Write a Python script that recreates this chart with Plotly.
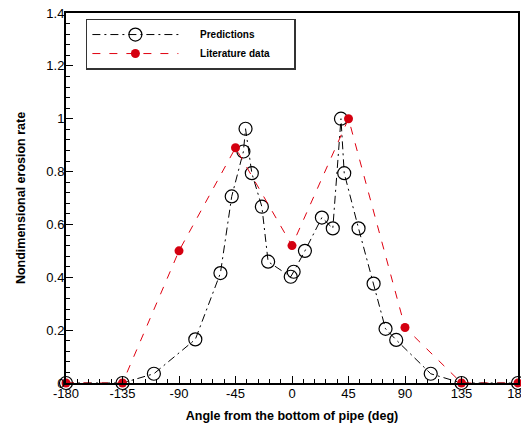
import plotly.graph_objects as go

pred_angle = [-180, -135, -110, -77, -57, -48, -38.7, -37, -32, -24, -19, -1, 1.3, 10.3,
              23.8, 32.5, 39, 41.6, 53, 65, 74.5, 83, 110.5, 135, 180]
pred_rate = [0, 0, 0.035, 0.165, 0.416, 0.706, 0.876, 0.962, 0.794, 0.667, 0.459, 0.402, 0.421, 0.50,
             0.626, 0.585, 1.0, 0.794, 0.585, 0.376, 0.205, 0.163, 0.035, 0, 0]

lit_angle = [-180, -135, -90, -45, 0, 45, 90, 135, 180]
lit_rate = [0, 0, 0.50, 0.89, 0.52, 1.0, 0.21, 0, 0]

x_tickvals = [-180, -135, -90, -45, 0, 45, 90, 135, 180]
x_ticktext = ["-180", "-135", "-90", "-45", "0", "45", "90", "135", "180"]
y_tickvals = [0, 0.2, 0.4, 0.6, 0.8, 1.0, 1.2, 1.4]
y_ticktext = ["0", "0.2", "0.4", "0.6", "0.8", "1", "1.2", "1.4"]

FONT = "Liberation Sans, Arial, sans-serif"
NB = "\u00a0"

fig = go.Figure()
fig.add_trace(go.Scatter(
    x=pred_angle, y=pred_rate, name=NB * 6 + "<b>Predictions</b>" + NB * 7, mode="lines+markers",
    line=dict(color="black", width=1, dash="8px,4px,2px,4px"),
    marker=dict(symbol="circle-open", size=13, color="black", line=dict(width=1.2, color="black")),
    cliponaxis=False,
))
fig.add_trace(go.Scatter(
    x=lit_angle, y=lit_rate, name=NB * 6 + "<b>Literature data</b>" + NB * 7, mode="lines+markers",
    line=dict(color="#e0000f", width=1, dash="8px,9px"),
    marker=dict(symbol="circle", size=9, color="#d40010"),
    cliponaxis=False,
))

axis_common = dict(
    showgrid=False, zeroline=False, showline=True, linewidth=2, linecolor="black",
    mirror=True, ticks="inside", ticklen=7, tickwidth=1, tickcolor="black",
    tickfont=dict(family=FONT, size=13, color="black"), automargin=False,
    ticklabeloverflow="allow",
)

fig.update_xaxes(
    range=[-180, 180], tickmode="array", tickvals=x_tickvals, ticktext=x_ticktext,
    minor=dict(ticks="inside", ticklen=4, tickwidth=1, tickcolor="black", dtick=9, tick0=0),
    title=dict(text="<b>Angle from the bottom of pipe (deg)</b>", font=dict(family=FONT, size=12.5, color="black"), standoff=12),
    ticklabelstandoff=-3,
    **axis_common,
)
fig.update_yaxes(
    range=[0, 1.4], tickmode="array", tickvals=y_tickvals, ticktext=y_ticktext,
    minor=dict(ticks="inside", ticklen=4, tickwidth=1, tickcolor="black", dtick=0.04, tick0=0),
    title=dict(text="<b>Nondimensional erosion rate</b>", font=dict(family=FONT, size=12.5, color="black"), standoff=18),
    ticklabelstandoff=-3,
    **axis_common,
)

# the page body adds an 8px margin, so the figure is sized to the remaining window
fig.update_layout(
    width=521, height=420,
    margin=dict(l=58, r=11, t=5, b=45),
    plot_bgcolor="white", paper_bgcolor="white",
    showlegend=True,
    legend=dict(
        x=0.044, y=0.985, xanchor="left", yanchor="top",
        bgcolor="white", bordercolor="#333333", borderwidth=1.5,
        font=dict(family=FONT, size=10, color="black"),
        itemwidth=86, tracegroupgap=0,
    ),
)

fig.write_html("out.html")
